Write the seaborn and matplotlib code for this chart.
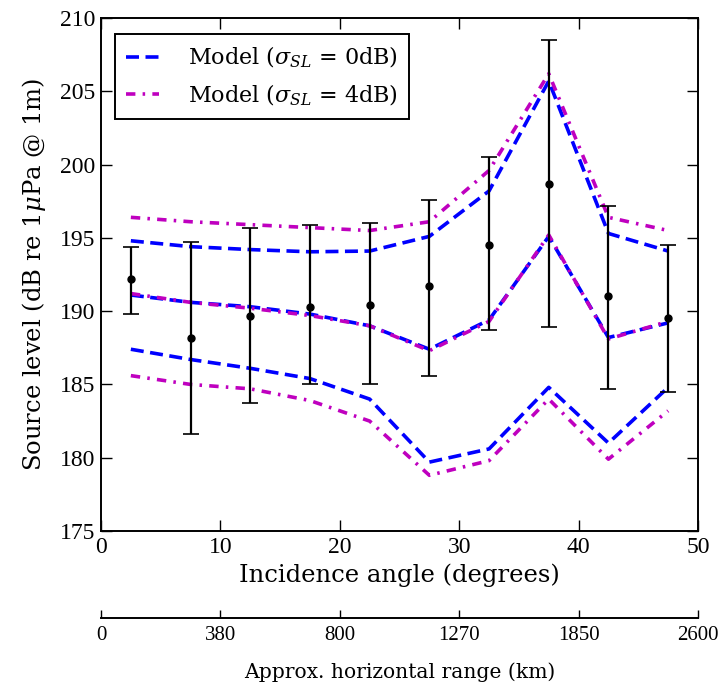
import numpy as np
import pandas as pd
import matplotlib
matplotlib.use("Agg")
import matplotlib.pyplot as plt
import seaborn as sns

# ---------------- data ----------------
angle = [2.5, 7.5, 12.5, 17.5, 22.5, 27.5, 32.5, 37.5, 42.5, 47.5]

obs_mean = [192.2, 188.2, 189.7, 190.3, 190.4, 191.7, 194.5, 198.7, 191.0, 189.5]
obs_low  = [189.8, 181.6, 183.7, 185.0, 185.0, 185.6, 188.7, 188.9, 184.7, 184.5]
obs_high = [194.4, 194.7, 195.7, 195.9, 196.0, 197.6, 200.5, 208.5, 197.2, 194.5]

m0_mid   = [191.1, 190.6, 190.3, 189.8, 189.0, 187.4, 189.4, 195.1, 188.2, 189.2]
m0_upper = [194.8, 194.4, 194.2, 194.05, 194.1, 195.1, 198.2, 205.7, 195.3, 194.1]
m0_lower = [187.4, 186.7, 186.1, 185.4, 184.0, 179.7, 180.6, 184.8, 181.0, 184.8]

m4_mid   = [191.2, 190.6, 190.2, 189.7, 189.0, 187.3, 189.3, 195.2, 188.1, 189.3]
m4_upper = [196.4, 196.1, 195.9, 195.7, 195.5, 196.1, 199.6, 206.2, 196.4, 195.5]
m4_lower = [185.6, 185.0, 184.7, 183.9, 182.5, 178.8, 179.8, 184.0, 179.9, 183.2]

range_ticks = [0, 10, 20, 30, 40, 50]
range_labels = ["0", "380", "800", "1270", "1850", "2600"]

# ---------------- style ----------------
sns.set_style("ticks")
plt.rcParams["font.family"] = ["Liberation Serif", "DejaVu Serif"]
plt.rcParams["mathtext.fontset"] = "dejavuserif"
plt.rcParams["xtick.direction"] = "in"
plt.rcParams["ytick.direction"] = "in"
for k in ["text.color", "axes.labelcolor", "xtick.color", "ytick.color",
          "axes.edgecolor", "xtick.labelcolor", "ytick.labelcolor"]:
    plt.rcParams[k] = "black"
LAB = ["DejaVu Serif"]

fig = plt.figure(figsize=(7.24, 6.86), dpi=100)
L, R = 101 / 724, 698 / 724
ax = fig.add_axes([L, (686 - 531) / 686, R - L, (531 - 18) / 686])

blue = "#0000ff"
mag = "#bf00bf"
lw = 2.6
dash0 = (3.6, 1.8)
dash4 = (2.6, 2.0, 0.7, 2.0)

for ys, col, ls, lab in [
    (m0_upper, blue, dash0, r"Model ($\sigma_{SL}$ = 0dB)"),
    (m0_mid, blue, dash0, None),
    (m0_lower, blue, dash0, None),
    (m4_upper, mag, dash4, r"Model ($\sigma_{SL}$ = 4dB)"),
    (m4_mid, mag, dash4, None),
    (m4_lower, mag, dash4, None),
]:
    d = pd.DataFrame({"angle": angle, "y": ys})
    sns.lineplot(data=d, x="angle", y="y", ax=ax, color=col, lw=lw,
                 label=lab, legend=False)
    ax.lines[-1].set_dashes(ls)

mean = np.array(obs_mean)
yerr = [mean - np.array(obs_low), np.array(obs_high) - mean]
ax.errorbar(angle, obs_mean, yerr=yerr, fmt="o", color="black", ms=5,
            elinewidth=1.6, capsize=6, capthick=1.2, zorder=5)

ax.set_xlim(0, 50)
ax.set_ylim(175, 210)
ax.set_xticks([0, 10, 20, 30, 40, 50])
ax.set_yticks([175, 180, 185, 190, 195, 200, 205, 210])
ax.tick_params(which="both", top=True, right=True, direction="in",
               length=8, width=1.0, labelsize=17, pad=4, color="black",
               labelcolor="black")
for s in ax.spines.values():
    s.set_linewidth(1.4)
    s.set_color("black")
ax.set_xlabel("Incidence angle (degrees)", fontsize=17.5, labelpad=4,
              family=LAB, color="black")
ax.set_ylabel(r"Source level (dB re 1$\mu$Pa @ 1m)", fontsize=17.5,
              labelpad=9, family=LAB, color="black")

handles, labels = ax.get_legend_handles_labels()
leg = ax.legend(handles, labels, loc="upper left", frameon=True,
                prop={"family": LAB, "size": 16},
                fancybox=False, edgecolor="black", handlelength=1.5,
                borderpad=0.5, labelspacing=0.55, handletextpad=1.3,
                borderaxespad=0.0, labelcolor="black",
                bbox_to_anchor=((115 - 101) / 597, (531 - 34) / 513))
leg.get_frame().set_linewidth(1.4)
leg.get_frame().set_alpha(1)

# secondary range axis
ax2 = fig.add_axes([L, (686 - 618) / 686, R - L, 1e-6])
ax2.set_xlim(0, 50)
ax2.set_yticks([])
for side in ["top", "left", "right"]:
    ax2.spines[side].set_visible(False)
ax2.spines["bottom"].set_linewidth(1.4)
ax2.spines["bottom"].set_color("black")
ax2.set_xticks(range_ticks)
ax2.set_xticklabels(range_labels)
ax2.tick_params(axis="x", direction="in", length=6, width=1.0, labelsize=15,
                pad=6, color="black", labelcolor="black")
ax2.set_xlabel("Approx. horizontal range (km)", fontsize=14.6, labelpad=12,
               family=LAB, color="black")
ax2.patch.set_visible(False)

fig.savefig("out.png", dpi=100)
